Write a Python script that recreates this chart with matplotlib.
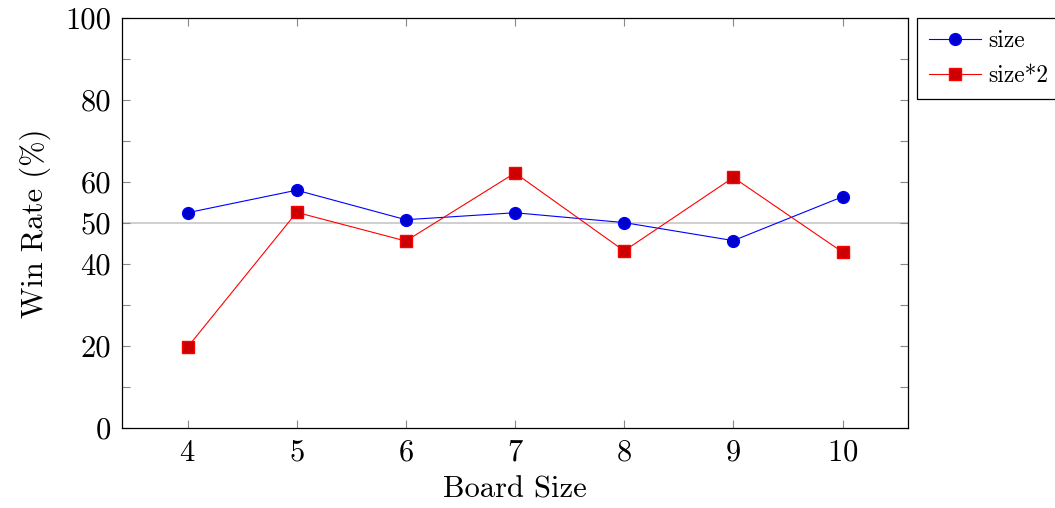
import numpy as np
import matplotlib
matplotlib.use("Agg")
import matplotlib.pyplot as plt

# Win rate per board size
board_size = [4, 5, 6, 7, 8, 9, 10]
win_size = [52.5, 58.0, 50.8, 52.5, 50.1, 45.7, 56.4]
win_size2 = [19.7, 52.6, 45.6, 62.2, 43.2, 61.1, 42.9]
labels = ["size", "size*2"]
ytick_labels = [0, 20, 40, 50, 60, 80, 100]

plt.rcParams['font.family'] = ['cmr10', 'DejaVu Serif']
plt.rcParams['mathtext.fontset'] = 'cm'
plt.rcParams['axes.formatter.use_mathtext'] = True

fig = plt.figure(figsize=(10.55, 5.08), dpi=100)
ax = fig.add_axes([122/1055, 1 - 428/508, (908-122)/1055, (428-18)/508])

ax.axhline(50, color="#cccccc", linewidth=1.3, zorder=1)

ax.plot(board_size, win_size, "-o", color="blue", markerfacecolor="#0000cc",
        markeredgecolor="blue", markersize=8.5, linewidth=0.8, label=labels[0], zorder=3)
ax.plot(board_size, win_size2, "-s", color="red", markerfacecolor="#cc0000",
        markeredgecolor="red", markersize=8, linewidth=0.8, label=labels[1], zorder=3)

ax.set_xlim(3.4, 10.6)
ax.set_ylim(0, 100)
ax.set_xticks(board_size)
ax.set_yticks(np.arange(0, 101, 10))
ax.set_yticklabels([str(v) if v in ytick_labels else "" for v in range(0, 101, 10)])

ax.tick_params(axis='both', which='major', direction='in', length=6, width=0.8,
               color="#888888", labelsize=22, top=True, right=True, pad=8)
for s in ax.spines.values():
    s.set_linewidth(0.9)
    s.set_color("black")

ax.set_xlabel("Board Size", fontsize=22, labelpad=7)
ax.set_ylabel("Win Rate (%)", fontsize=22, labelpad=10)

leg = ax.legend(loc="upper left", bbox_to_anchor=(917/1055, 1 - 18/508),
                bbox_transform=fig.transFigure, fontsize=17, fancybox=False,
                framealpha=1, edgecolor="black", borderaxespad=0, handlelength=2.2,
                borderpad=0.5, labelspacing=0.55, handletextpad=0.3)
leg.get_frame().set_linewidth(0.9)

plt.savefig("out.png", dpi=100)
